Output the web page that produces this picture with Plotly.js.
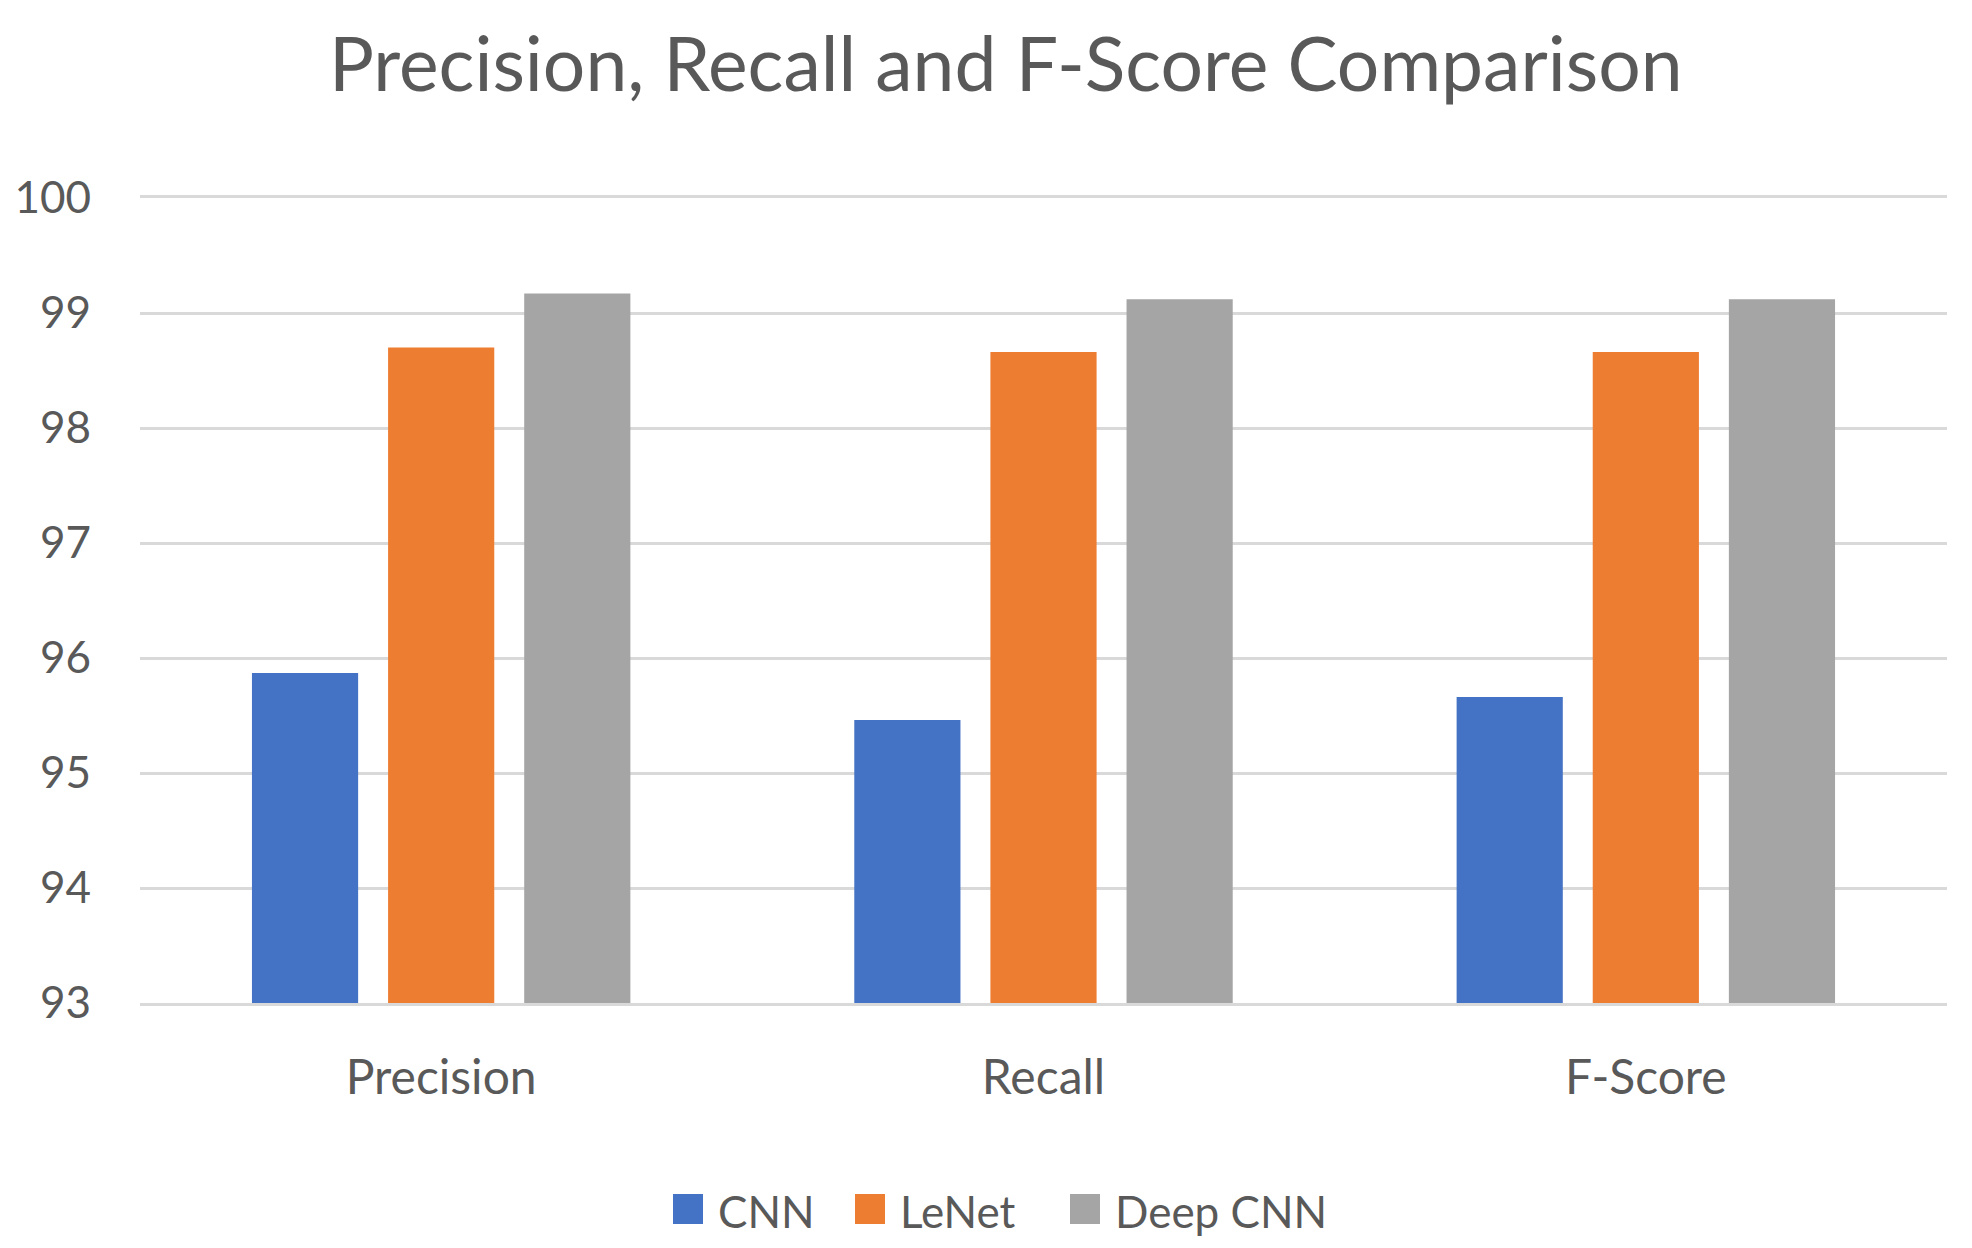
<!DOCTYPE html>
<html>
<head>
<meta charset="utf-8">
<script src="https://cdn.plot.ly/plotly-3.0.1.min.js"></script>
<style>html,body{margin:0;padding:0;background:#fff;}#chart{width:1972px;height:1248px;}</style>
</head>
<body>
<div id="chart"></div>
<script>
const categories = ["Precision", "Recall", "F-Score"];
const seriesNames = ["CNN", "LeNet", "Deep CNN"];
const cnnValues = [95.87, 95.46, 95.66];
const lenetValues = [98.70, 98.66, 98.66];
const deepCnnValues = [99.17, 99.12, 99.12];
const yTicks = [93, 94, 95, 96, 97, 98, 99, 100];
const colors = ["#4472C4", "#ED7D31", "#A5A5A5"];

const W = 1972, H = 1248;
const M = {l: 140, r: 25, t: 198, b: 245};
const plotW = W - M.l - M.r, plotH = H - M.t - M.b;
const px2x = px => (px - M.l) / plotW;
const py2y = py => (H - M.b - py) / plotH;

const values = [cnnValues, lenetValues, deepCnnValues];
const font = "Lato, 'Open Sans', sans-serif";
const traces = values.map((v, i) => ({
  type: "bar",
  name: seriesNames[i],
  x: categories,
  y: v.map(val => val - 93),
  base: 93,
  marker: {color: colors[i]},
  showlegend: false
}));

// custom legend (larger keys than Plotly's fixed legend swatch)
const legendKeyX = [673, 855, 1070];
const keySize = 30, legendY = 1209;
const shapes = seriesNames.map((n, i) => ({
  type: "rect", xref: "paper", yref: "paper",
  x0: px2x(legendKeyX[i]), x1: px2x(legendKeyX[i] + keySize),
  y0: py2y(legendY + keySize / 2), y1: py2y(legendY - keySize / 2),
  fillcolor: colors[i], line: {width: 0}
}));
const annotations = seriesNames.map((n, i) => ({
  xref: "paper", yref: "paper", x: px2x(legendKeyX[i] + keySize + 13), y: py2y(legendY + 2),
  xanchor: "left", yanchor: "middle", showarrow: false, text: n,
  font: {size: 44, color: "#595959", family: font}
}));

const layout = {
  width: W, height: H,
  paper_bgcolor: "#fff", plot_bgcolor: "#fff",
  margin: M,
  font: {family: font, color: "#595959"},
  title: {text: "Precision, Recall and F-Score Comparison", x: 0.51, xref: "container", xanchor: "center", y: 0.948, yanchor: "middle",
          font: {size: 75, color: "#595959", family: font}},
  barmode: "group",
  bargap: 0.322,
  bargroupgap: 0.22,
  xaxis: {showgrid: false, showline: true, mirror: true, linecolor: "#D9D9D9", linewidth: 3, zeroline: false, ticks: "",
          tickfont: {size: 48, color: "#595959"}, ticklabelstandoff: 30},
  yaxis: {range: [93, 100], tickvals: yTicks, ticktext: yTicks.map(String), showgrid: true, gridcolor: "#D9D9D9", gridwidth: 3,
          zeroline: false, showline: false, ticks: "", tickfont: {size: 44, color: "#595959"}, ticklabelstandoff: 48},
  showlegend: false,
  shapes: shapes,
  annotations: annotations
};
Plotly.newPlot("chart", traces, layout, {displayModeBar: false, staticPlot: true});
</script>
</body>
</html>
